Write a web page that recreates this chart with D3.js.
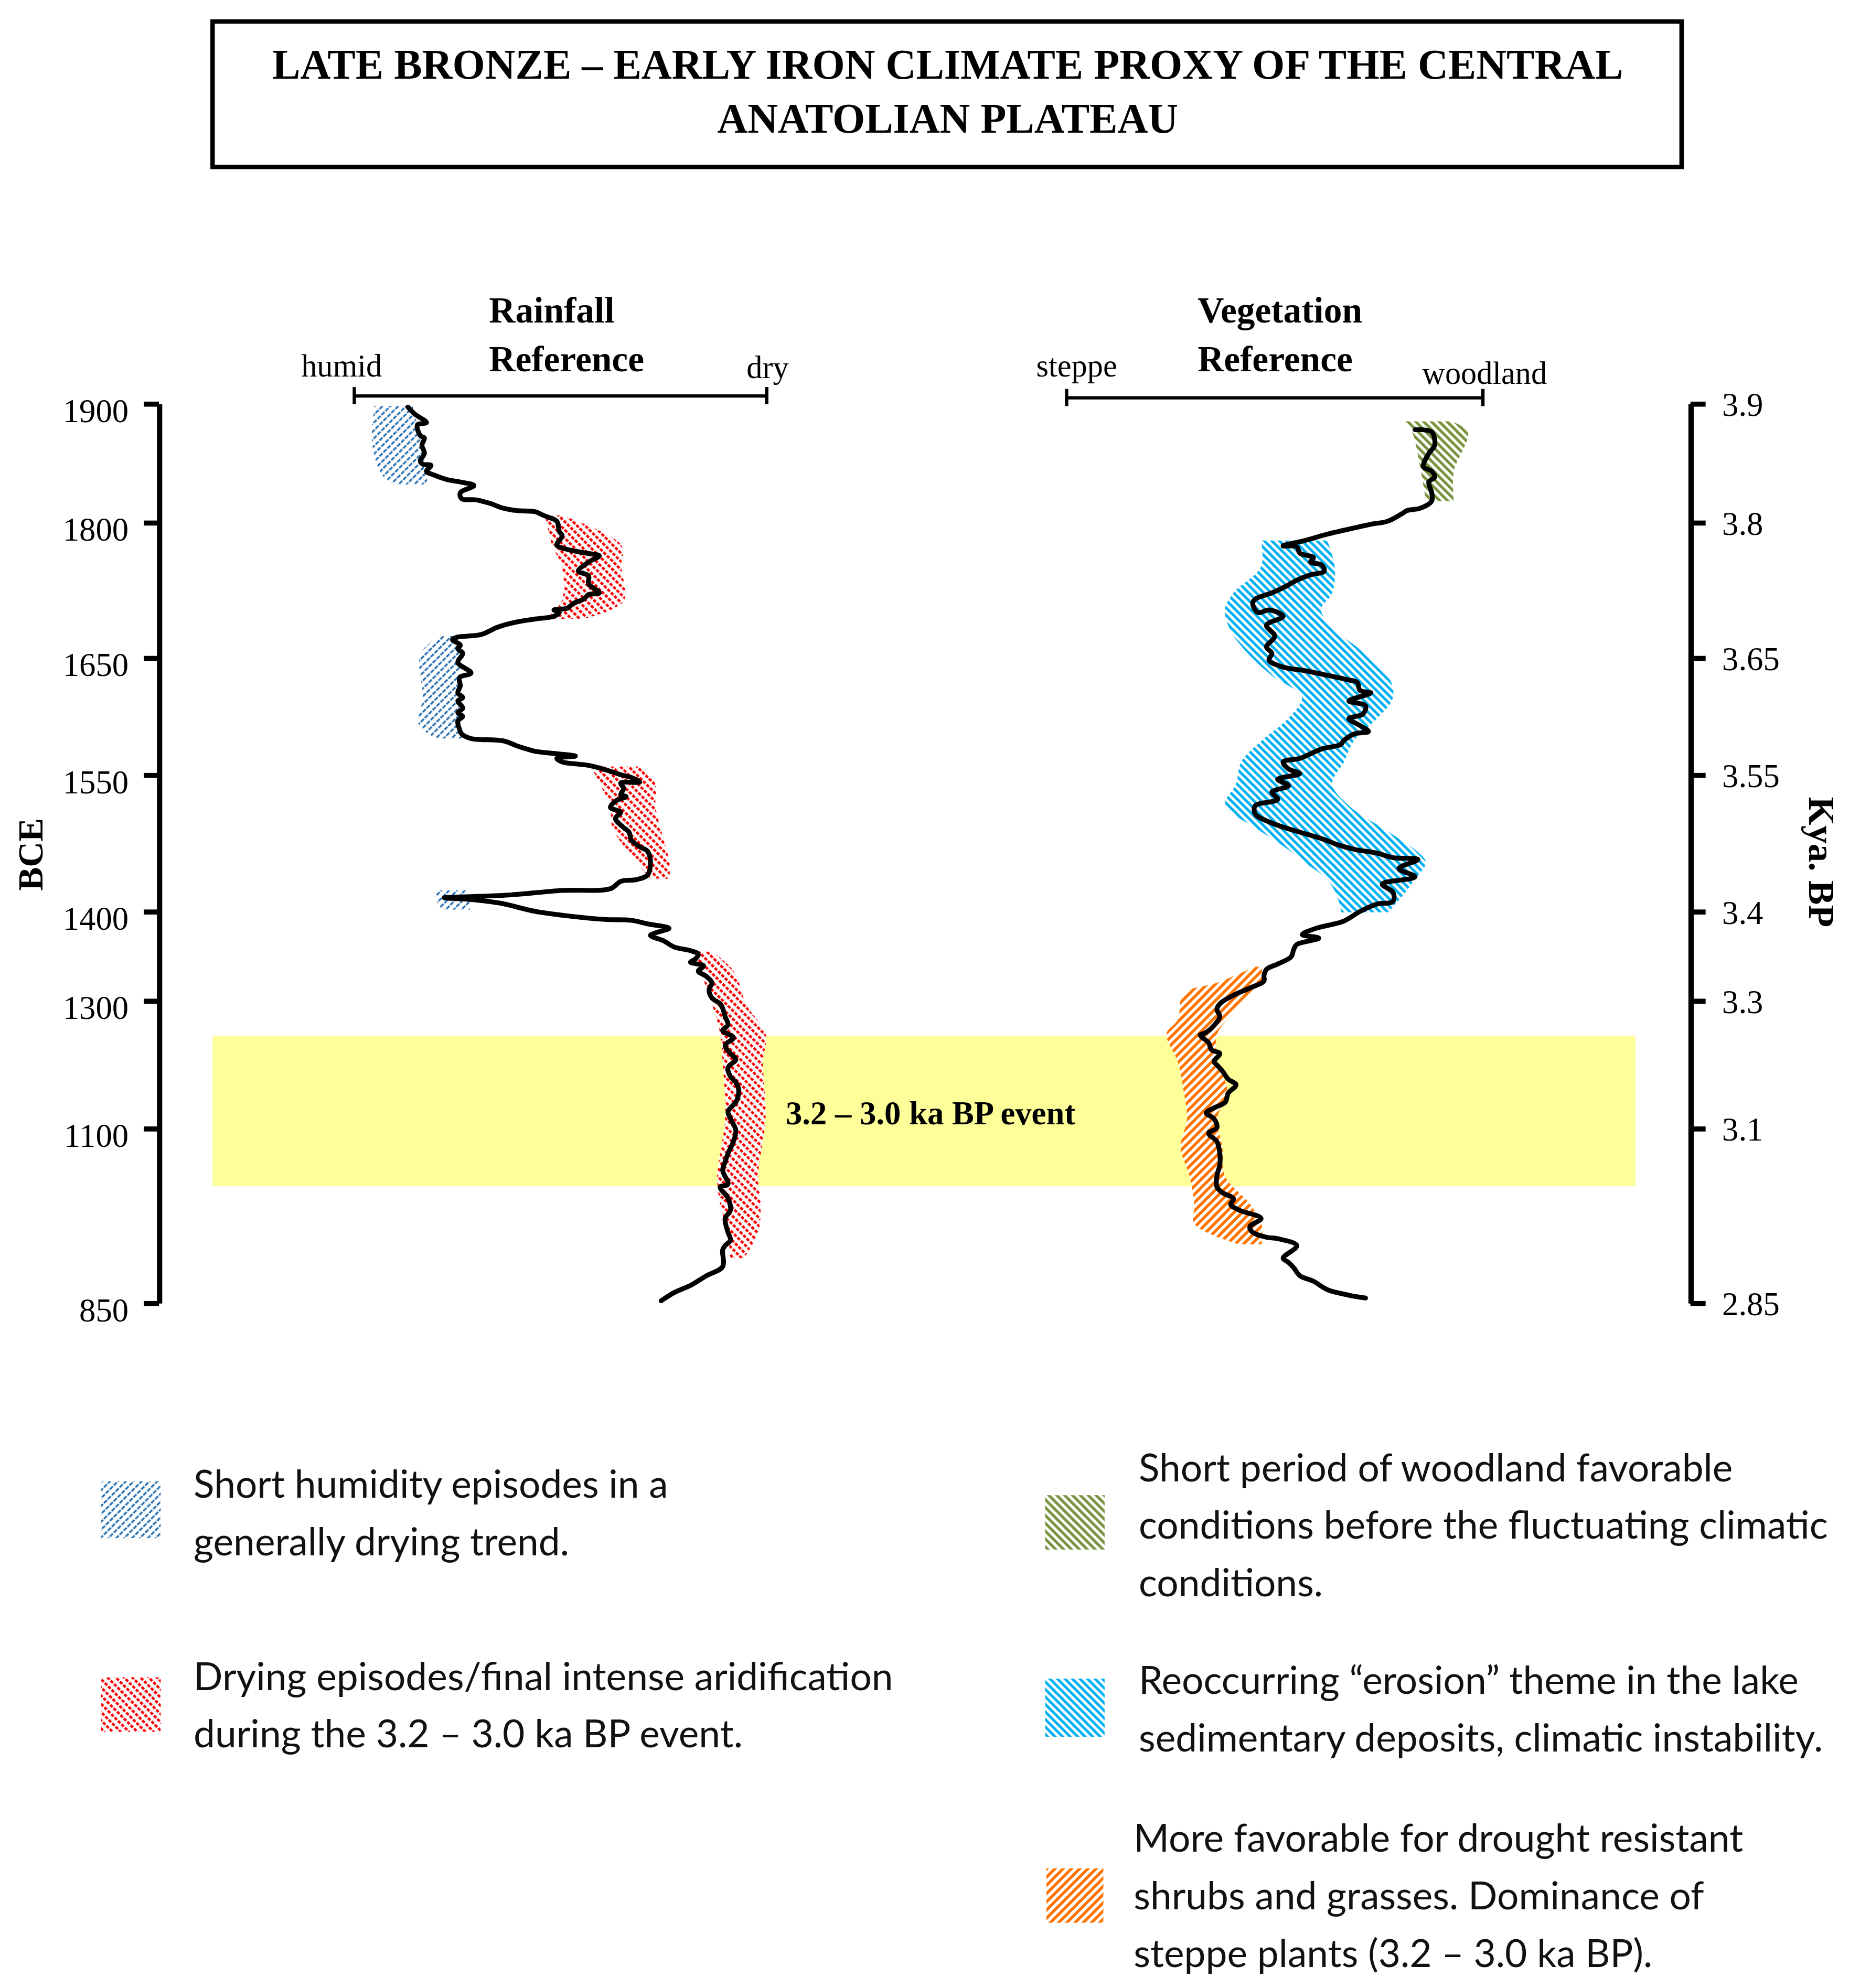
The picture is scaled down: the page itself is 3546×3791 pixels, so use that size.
<!DOCTYPE html>
<html lang="en">
<head>
<meta charset="UTF-8">
<title>Late Bronze – Early Iron Climate Proxy</title>
<style>
  body { margin: 0; background: #fff; }
  svg { display: block; width: 3546px; height: 3791px; }
  .serif { font-family: 'Liberation Serif', 'Times New Roman', serif; }
  .legend text { font-family: Lato, 'Open Sans', sans-serif; font-size: 30.3px; fill: #111; }
</style>
</head>
<body>
<svg id="chart" viewBox="0 0 1470 1571.6"></svg>
<script src="https://d3js.org/d3.v7.min.js"></script>
<script>
// the time axis is not linear: every labelled year has its own spot
const yearTicks = [1900, 1800, 1650, 1550, 1400, 1300, 1100, 850];
const kyaTicks  = [3.9, 3.8, 3.65, 3.55, 3.4, 3.3, 3.1, 2.85];
const tickY     = [319, 413, 520, 612.5, 720.5, 791, 892, 1030];

// rainfall curve: [year BCE, dryness 0 = humid .. 100 = dry]
const rainfall = [
  [1897,13],[1891,14.7],[1884,17.5],[1882,15.3],[1873,16],[1871,17],[1865,16.4],[1858,17],
  [1852,16],[1849,16.6],[1848,18.6],[1843,17.5],[1840,19.2],[1836,22.5],[1834,25.7],[1831,29],
  [1825,25.7],[1820,26],[1819,29.6],[1816,32.9],[1812,36.1],[1810,39.3],[1809,43.9],[1807,45.2],
  [1805,46.5],[1801,49.1],[1790,49.7],[1785,50.4],[1775,49.1],[1770,51.7],[1766,56.2],[1763,59.4],
  [1756,56.8],[1746,54.3],[1741,56.8],[1732,56.8],[1722,59.4],[1720,56.8],[1715,55.6],[1710,53],
  [1705,51.7],[1703,48.4],[1700,49.7],[1696,48.4],[1693,43.9],[1689,38.7],[1684,34.8],[1676,30.9],
  [1674,27.6],[1673,25.1],[1670,23.8],[1664,25.7],[1660,25.1],[1655,26.3],[1646,25.1],[1637,28.3],
  [1633,25.5],[1626,25.7],[1620,25.1],[1616,26.3],[1613,25.1],[1607,26.3],[1603,25.1],[1600,26.3],
  [1596,25.1],[1589,25.5],[1585,26],[1581,28.3],[1579,36.1],[1574,40],[1570,43.9],[1568,49.1],
  [1566,53.6],[1564,49.1],[1561,50.4],[1558,56.8],[1553,62.1],[1550,64.6],[1547,67.2],[1542,69.2],
  [1541,64.6],[1535,65.3],[1528,64.6],[1526,65.9],[1521,63.3],[1514,62.1],[1509,64.6],[1502,63.3],
  [1492,65.3],[1487,66.6],[1478,67.2],[1471,69.2],[1466,71.1],[1454,71.8],[1440,71.1],[1435,68.5],
  [1433,64.6],[1425,62.1],[1423,50.4],[1418,37.4],[1416,27],[1415,21.8],[1413,28.3],[1409,35.4],
  [1400,43.9],[1395,51.7],[1391,60.7],[1390,67.2],[1386,71.1],[1381,76.3],[1376,73.1],[1373,71.8],
  [1367,75],[1360,77.6],[1356,81.5],[1352,83.4],[1347,82.8],[1343,81.5],[1339,84.7],[1333,83.4],
  [1327,85.4],[1320,86.7],[1312,86],[1303,86.7],[1295,88.7],[1288,89.3],[1275,89.9],[1262,90.6],
  [1253,89.3],[1242,91.9],[1230,89.9],[1217,91.2],[1208,92.5],[1195,90.6],[1181,91.2],[1172,92.5],
  [1159,93.2],[1141,92.5],[1132,91.2],[1126,90.6],[1115,91.2],[1097,92.5],[1081,91.9],[1064,90.6],
  [1052,89.9],[1040,89.3],[1020,90.6],[1016,88.7],[1000,90.6],[983,91.2],[971,89.9],[951,90.6],
  [940,91.2],[932,89.9],[926,89.3],[902,89.3],[889,85.4],[875,81.5],[865,77.6],[853,74.4]
];

// vegetation curve: [year BCE, 0 = steppe .. 100 = woodland]
const vegetation = [
  [1878,83.7],[1876,87.7],[1865,88.4],[1858,87],[1847,85.7],[1843,87.7],[1838,88.4],[1834,87],
  [1825,87.7],[1818,87.7],[1812,85],[1810,81.8],[1807,80.4],[1801,77.1],[1798,73.1],[1794,69.2],
  [1787,62.6],[1780,57.3],[1774,52],[1773,55.3],[1766,56],[1761,59.3],[1756,58.6],[1753,61.2],
  [1746,61.9],[1742,58.6],[1736,55.3],[1729,52.6],[1722,49.3],[1715,45.3],[1710,44.7],[1700,46],
  [1703,48.6],[1696,52],[1686,48],[1674,50],[1662,48],[1655,49.3],[1648,48.6],[1642,52],
  [1639,57.3],[1635,62.6],[1631,67.8],[1629,69.8],[1622,70.5],[1620,73.1],[1613,67.8],[1609,71.8],
  [1602,71.2],[1598,67.8],[1592,70.5],[1587,72.5],[1585,69.2],[1579,66.5],[1576,65.9],[1572,61.2],
  [1564,56],[1561,52],[1555,53.3],[1551,56],[1545,50.7],[1538,53.3],[1531,49.3],[1523,50.7],
  [1516,45.3],[1507,45.3],[1497,49.3],[1487,56],[1480,61.2],[1473,65.2],[1468,69.2],[1464,74.5],
  [1459,78.4],[1457,84.4],[1447,79.8],[1438,83.7],[1430,75.8],[1421,78.4],[1411,78.4],[1408,74.5],
  [1400,70.5],[1389,66.5],[1381,59.9],[1374,56.6],[1370,60.6],[1363,55.3],[1358,54.6],[1349,53.9],
  [1341,50.7],[1335,48],[1328,47.4],[1322,47.4],[1314,44],[1306,40.1],[1295,36.8],[1286,36.1],
  [1275,36.8],[1261,35.4],[1250,33.5],[1246,32.1],[1234,34.1],[1223,34.8],[1217,36.8],[1205,35.4],
  [1199,36.1],[1190,37.4],[1177,38.8],[1168,40.7],[1155,38.8],[1141,38.1],[1132,35.4],[1124,33.5],
  [1115,35.4],[1101,36.1],[1093,34.1],[1081,36.1],[1064,36.8],[1048,36.8],[1032,36.1],[1016,36.1],
  [1008,37.4],[999,40.1],[991,39.4],[983,41.4],[971,46.7],[959,44],[951,44.7],[944,48],
  [942,50.7],[932,55.3],[914,52],[908,53.3],[900,54.6],[889,56],[881,59.3],[869,62.6],
  [861,67.8],[857,71.8]
];

// hatched episodes: [year BCE, low edge, high edge] on the panel's own scale
const humidBands = [
  [[1898,4.9,14.1],[1867,4.3,16.3],[1840,6.7,17.5],[1832,9.8,17.8]],
  [[1674,20.6,25.8],[1654,16,25.8],[1616,16.6,25.2],[1593,15.6,25.8],[1581,19.9,26.4]],
  [[1423,20,27],[1412,19.9,27.9],[1402,21,28]]
];
const dryBands = [
  [[1806,46.3,50.3],[1775,47.9,64.7],[1751,50.3,64.7],[1713,50.3,65.3],[1693,46.3,55.5]],
  [[1557,57.4,69],[1540,59.5,73],[1516,62,73],[1492,62.6,74.2],[1454,68.4,76.4],[1436,71.8,76.4]],
  [[1355,82.8,86.8],[1333,84,92],[1293,86.8,95.1],[1248,88.7,99.7],[1204,89.3,99.1],[1115,89.9,99.7],
   [1032,88,97.9],[991,88.7,98.5],[951,90.5,97.9],[914,91.1,94.5]]
];
const woodlandBand = [[1885,81.2,92.4],[1876,83,96.4],[1843,85.1,93],[1818,86.3,93]];
const erosionBand = [
  [1780,46.7,62.6],[1751,46.7,64.4],[1722,40.1,63.8],[1703,38,61.1],[1679,39.5,65],[1655,43.5,71.7],
  [1635,49.2,77.2],[1616,56.5,78.4],[1598,53.2,74.5],[1579,46.8,69],[1561,41.9,66.6],[1540,40.7,63.8],
  [1516,38,67.8],[1492,45.3,75.7],[1468,53.2,83.6],[1454,57.1,86.3],[1435,62.6,83.6],[1416,65,80.5],
  [1399,66,77.2]
];
const steppeBand = [
  [1338,45.3,46.8],[1320,36.2,46.8],[1308,28.1,44.7],[1270,26.7,38.6],[1248,24,36.2],[1204,26.7,36.2],
  [1159,28.1,38.6],[1115,28.9,36.2],[1073,27.4,37.4],[1032,29.5,38],[991,30.7,44.1],[963,30.7,46.8],
  [934,41.3,46.8]
];

// the 3.2 - 3.0 ka BP event, years BCE as drawn
const eventSpan = [1245, 1017];

const legendKeys = ["humid", "dry", "woodland", "erosion", "steppe"];
const legendText = [
  ["Short humidity episodes in a", "generally drying trend."],
  ["Drying episodes/final intense aridification", "during the 3.2 – 3.0 ka BP event."],
  ["Short period of woodland favorable", "conditions before the fluctuating climatic", "conditions."],
  ["Reoccurring “erosion” theme in the lake", "sedimentary deposits, climatic instability."],
  ["More favorable for drought resistant", "shrubs and grasses. Dominance of", "steppe plants (3.2 – 3.0 ka BP)."]
];

const svg = d3.select("#chart");
const defs = svg.append("defs");

// hatch fills: diagonal stripes, the dotted ones staggered so they read as lines
const hatches = {
  humid:    {color: "#2e75b6", angle: 45,  period: 4.4, stripe: 1.5, dash: [3.4, 1.0]},
  dry:      {color: "#ff0000", angle: -45, period: 4.6, stripe: 2.0, dash: [2.6, 1.2]},
  woodland: {color: "#77933c", angle: -45, period: 4.4, stripe: 2.2, dash: null},
  erosion:  {color: "#00b0f0", angle: -45, period: 4.2, stripe: 2.1, dash: null},
  steppe:   {color: "#ff7300", angle: 45,  period: 4.6, stripe: 2.3, dash: null}
};
Object.entries(hatches).forEach(([id, h]) => {
  const cycle = h.dash ? h.dash[0] + h.dash[1] : h.period;
  const w = h.dash ? h.period * 2 : h.period;
  const p = defs.append("pattern")
    .attr("id", "hatch-" + id)
    .attr("patternUnits", "userSpaceOnUse")
    .attr("width", w).attr("height", cycle)
    .attr("patternTransform", `rotate(${h.angle})`);
  p.append("rect").attr("width", w).attr("height", cycle).attr("fill", "#fff");
  if (!h.dash) {
    p.append("rect").attr("width", h.stripe).attr("height", cycle).attr("fill", h.color);
  } else {
    p.append("rect").attr("width", h.stripe).attr("height", h.dash[0]).attr("fill", h.color);
    // second stripe shifted by half a cycle, wrapped round the tile
    const half = cycle / 2;
    p.append("rect").attr("x", h.period).attr("y", half)
      .attr("width", h.stripe).attr("height", Math.min(h.dash[0], half)).attr("fill", h.color);
    if (h.dash[0] > half) {
      p.append("rect").attr("x", h.period).attr("y", 0)
        .attr("width", h.stripe).attr("height", h.dash[0] - half).attr("fill", h.color);
    }
  }
});

// scales
const y = d3.scaleLinear().domain(yearTicks).range(tickY);
const yKya = d3.scaleLinear().domain(kyaTicks).range(tickY);
const xRain = d3.scaleLinear().domain([0, 100]).range([280, 606]);
const xVeg = d3.scaleLinear().domain([0, 100]).range([843, 1172]);

// title box
svg.append("rect")
  .attr("x", 168).attr("y", 17).attr("width", 1161).attr("height", 115)
  .attr("fill", "none").attr("stroke", "#000").attr("stroke-width", 3.5);
svg.append("text").attr("class", "serif")
  .attr("x", 749).attr("text-anchor", "middle")
  .attr("font-weight", "bold").attr("font-size", 33.2)
  .selectAll("tspan")
  .data(["LATE BRONZE – EARLY IRON CLIMATE PROXY OF THE CENTRAL", "ANATOLIAN PLATEAU"])
  .join("tspan")
  .attr("x", 749).attr("y", (d, i) => 62 + i * 43)
  .text(d => d);

// event band
svg.append("rect")
  .attr("x", 168).attr("width", 1124.5)
  .attr("y", y(eventSpan[0])).attr("height", y(eventSpan[1]) - y(eventSpan[0]))
  .attr("fill", "#ffff99");

// axes
const axisL = svg.append("g")
  .attr("transform", "translate(125.6,0)")
  .call(d3.axisLeft(y).tickValues(yearTicks).tickSize(12).tickSizeOuter(0).tickPadding(12).tickFormat(d3.format("d")))
  .attr("font-family", "'Liberation Serif', 'Times New Roman', serif").attr("font-size", 26);
axisL.select(".domain").attr("stroke-width", 4.2);
axisL.selectAll(".tick line").attr("stroke-width", 4);
axisL.selectAll(".tick text").attr("dy", "0.54em");

const axisR = svg.append("g")
  .attr("transform", "translate(1336,0)")
  .call(d3.axisRight(yKya).tickValues(kyaTicks).tickSize(12).tickSizeOuter(0).tickPadding(13).tickFormat(d => d))
  .attr("font-family", "'Liberation Serif', 'Times New Roman', serif").attr("font-size", 26);
axisR.select(".domain").attr("stroke-width", 4.2);
axisR.selectAll(".tick line").attr("stroke-width", 4);
axisR.selectAll(".tick text").attr("dy", "0.36em");

svg.append("text").attr("class", "serif")
  .attr("transform", "translate(33.5,675.5) rotate(-90)")
  .attr("text-anchor", "middle").attr("font-weight", "bold").attr("font-size", 28)
  .text("BCE");
svg.append("text").attr("class", "serif")
  .attr("transform", "translate(1430,681.5) rotate(90)")
  .attr("text-anchor", "middle").attr("font-weight", "bold").attr("font-size", 29)
  .text("Kya. BP");

// panel headers and humid/dry, steppe/woodland bars
function panelHeader(x, word, barY, scale, ends) {
  const g = svg.append("g").attr("class", "serif");
  g.append("text").attr("x", x).attr("font-weight", "bold").attr("font-size", 28.8)
    .selectAll("tspan").data([word, "Reference"]).join("tspan")
    .attr("x", x).attr("y", (d, i) => 255 + i * 38.5).text(d => d);
  const [a, b] = scale.range();
  g.append("line").attr("x1", a).attr("x2", b).attr("y1", barY).attr("y2", barY)
    .attr("stroke", "#000").attr("stroke-width", 2.6);
  g.selectAll(".endtick").data([a, b]).join("line")
    .attr("x1", d => d).attr("x2", d => d).attr("y1", barY - 7).attr("y2", barY + 6.5)
    .attr("stroke", "#000").attr("stroke-width", 2.6);
  g.selectAll(".endlabel").data(ends).join("text")
    .attr("x", d => d.x).attr("y", d => d.y).attr("font-size", 25).text(d => d.t);
}
panelHeader(386.5, "Rainfall", 313, xRain, [{t: "humid", x: 238, y: 297.5}, {t: "dry", x: 590, y: 299}]);
panelHeader(946.5, "Vegetation", 314.5, xVeg, [{t: "steppe", x: 819, y: 297.5}, {t: "woodland", x: 1124, y: 303.5}]);

// hatched bands
const band = xs => d3.area()
  .curve(d3.curveCatmullRom.alpha(0.5))
  .y(d => y(d[0])).x0(d => xs(d[1])).x1(d => xs(d[2]));

const bandLayer = svg.append("g");
bandLayer.selectAll(".humid").data(humidBands).join("path")
  .attr("d", band(xRain)).attr("fill", "url(#hatch-humid)");
bandLayer.selectAll(".dry").data(dryBands).join("path")
  .attr("d", band(xRain)).attr("fill", "url(#hatch-dry)");
bandLayer.append("path").datum(woodlandBand).attr("d", band(xVeg)).attr("fill", "url(#hatch-woodland)");
bandLayer.append("path").datum(erosionBand).attr("d", band(xVeg)).attr("fill", "url(#hatch-erosion)");
bandLayer.append("path").datum(steppeBand).attr("d", band(xVeg)).attr("fill", "url(#hatch-steppe)");

// proxy curves
const curve = xs => d3.line()
  .curve(d3.curveCatmullRom.alpha(0.5))
  .x(d => xs(d[1])).y(d => y(d[0]));

svg.append("path").datum(rainfall).attr("d", curve(xRain))
  .attr("fill", "none").attr("stroke", "#000").attr("stroke-width", 3.8)
  .attr("stroke-linejoin", "round").attr("stroke-linecap", "round");
svg.append("path").datum(vegetation).attr("d", curve(xVeg))
  .attr("fill", "none").attr("stroke", "#000").attr("stroke-width", 3.8)
  .attr("stroke-linejoin", "round").attr("stroke-linecap", "round");

svg.append("text").attr("class", "serif")
  .attr("x", 621).attr("y", 889)
  .attr("font-weight", "bold").attr("font-size", 26)
  .text("3.2 – 3.0 ka BP event");

// legend
const legendLayout = [
  {sx: 80,  sy: 1171, sw: 47, sh: 45, tx: 153, ty: 1184},
  {sx: 80,  sy: 1326, sw: 47, sh: 43, tx: 153, ty: 1336},
  {sx: 826, sy: 1182, sw: 47, sh: 43, tx: 900, ty: 1171},
  {sx: 826, sy: 1327, sw: 47, sh: 46, tx: 900, ty: 1339},
  {sx: 827, sy: 1477, sw: 45, sh: 43, tx: 896, ty: 1464}
];
const legend = svg.append("g").attr("class", "legend");
legendKeys.forEach((key, i) => {
  const L = legendLayout[i];
  legend.append("rect")
    .attr("x", L.sx).attr("y", L.sy).attr("width", L.sw).attr("height", L.sh)
    .attr("fill", `url(#hatch-${key})`);
  legend.append("text")
    .selectAll("tspan").data(legendText[i]).join("tspan")
    .attr("x", L.tx).attr("y", (d, j) => L.ty + j * 45.5)
    .text(d => d);
});
</script>
</body>
</html>
